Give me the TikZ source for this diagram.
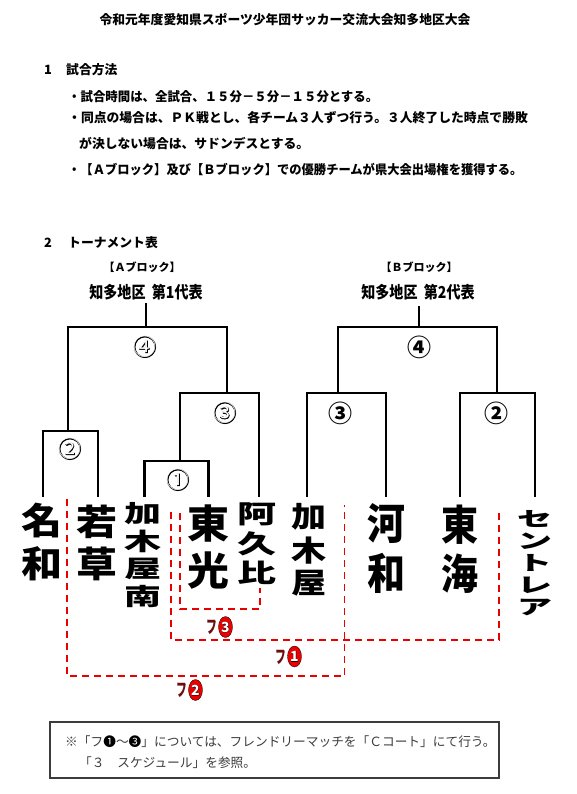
\documentclass[tikz,border=0pt]{standalone}
\usepackage{fontspec}
\usepackage{graphicx}
\usetikzlibrary{shapes.geometric}
\setmainfont{Noto Sans CJK JP}
\newfontfamily\jpfat{Noto Sans CJK JP}[FakeBold=3]
\definecolor{fured}{RGB}{235,0,0}
\definecolor{fudark}{RGB}{110,15,15}
\definecolor{notegray}{RGB}{60,60,60}
\newcommand{\vname}[3]{\resizebox*{#1pt}{#2pt}{\bfseries\renewcommand{\arraystretch}{0.9}\begin{tabular}{@{}c@{}}#3\end{tabular}}}
\newcommand{\outl}[1]{{\jpfat\color{black}#1}\llap{\color{white}#1}}
\tikzset{
  txt/.style={inner sep=0pt, anchor=west, font=\bfseries\fontsize{12.8}{14}\selectfont},
  notetxt/.style={inner sep=0pt, anchor=west, text=notegray, font=\fontsize{12.7}{14}\selectfont},
  br/.style={line width=2.8pt, black},
  rd/.style={line width=1.4pt, fured, dash pattern=on 7pt off 5pt},
  team/.style={inner sep=0pt, anchor=north},
  numA/.style={inner sep=0pt, font=\fontsize{23}{23}\selectfont},
  numB/.style={inner sep=0pt, font=\bfseries\fontsize{24}{24}\selectfont},
  fu/.style={inner sep=0pt, text=fudark, font=\bfseries\fontsize{18}{18}\selectfont},
  fuell/.style={ellipse, draw=black, line width=0.3pt, fill=fured, inner sep=0pt, minimum width=14pt, minimum height=21pt, font=\bfseries\fontsize{14}{14}\selectfont},
}
\begin{document}
\begin{tikzpicture}[x=1pt, y=-1pt]
\useasboundingbox (0,0) rectangle (577,794);
\fill[white] (0,0) rectangle (577,794);

% title and section 1
\node[inner sep=0pt, font=\bfseries\fontsize{12.8}{14}\selectfont] (title) at (285,20) {令和元年度愛知県スポーツ少年団サッカー交流大会知多地区大会};
\node[txt] (s1n) at (44,70) {1};
\node[txt] (s1t) at (66,70) {試合方法};
\node[txt] (b1) at (68,97) {\scalebox{0.97}[1]{・試合時間は、全試合、１５分－５分－１５分とする。}};
\node[txt] (b2) at (68,118) {・同点の場合は、ＰＫ戦とし、各チーム３人ずつ行う。３人終了した時点で勝敗};
\node[txt] (b3) at (79,144) {が決しない場合は、サドンデスとする。};
\node[txt] (b4) at (68,170) {\scalebox{0.96}[1]{・【Ａブロック】及び【Ｂブロック】での優勝チームが県大会出場権を獲得する。}};

% section 2
\node[txt] (s2n) at (44,243) {2};
\node[txt] (s2t) at (68,243) {トーナメント表};
\node[inner sep=0pt, font=\bfseries\fontsize{11}{12}\selectfont] (ablk) at (142,267) {【Ａブロック】};
\node[inner sep=0pt, font=\bfseries\fontsize{11}{12}\selectfont] (bblk) at (419,267) {【Ｂブロック】};
\node[inner sep=0pt, font=\bfseries\fontsize{16.5}{16}\selectfont] (arep) at (146,292) {\scalebox{0.85}[1]{知多地区\ \ 第1代表}};
\node[inner sep=0pt, font=\bfseries\fontsize{16.5}{16}\selectfont] (brep) at (418,292) {\scalebox{0.85}[1]{知多地区\ \ 第2代表}};

% bracket coordinates
\coordinate (L1) at (43,497);
\coordinate (L2) at (98,497);
\coordinate (L3) at (144.5,497);
\coordinate (L4) at (208.5,497);
\coordinate (L5) at (259,497);
\coordinate (L6) at (307,497);
\coordinate (L7) at (386,497);
\coordinate (L8) at (460,497);
\coordinate (L9) at (535,497);
\coordinate (M1) at (180,461);
\coordinate (M2) at (68,431);
\coordinate (M3) at (227,393);
\coordinate (M4) at (146,327);
\coordinate (W1) at (146,303);
\coordinate (M5) at (338,393);
\coordinate (M6) at (497,393);
\coordinate (M7) at (419,327);
\coordinate (W2) at (419,306);

\draw[br] (L1) |- (M2) -| (L2);
\draw[br] (L3) |- (M1) -| (L4);
\draw[br] (M1) |- (M3) -| (L5);
\draw[br] (M2) |- (M4) -| (M3);
\draw[br] (M4) -- (W1);
\draw[br] (L6) |- (M5) -| (L7);
\draw[br] (L8) |- (M6) -| (L9);
\draw[br] (M5) |- (M7) -| (M6);
\draw[br] (M7) -- (W2);

% match numbers, A block (outlined)
\node[numA] (a4) at (145,347) {\outl{④}};
\node[numA] (a3) at (225,413) {\outl{③}};
\node[numA] (a2) at (70,449) {\outl{②}};
\node[numA] (a1) at (178,480) {\outl{①}};
% B block (solid)
\node[numB] (b4n) at (419,347) {④};
\node[numB] (b3n) at (340,413) {③};
\node[numB] (b2n) at (496,413) {②};

% team names
\node[team] (t1) at (42,503) {\vname{41}{86}{名\\和}};
\node[team] (t2) at (97,505) {\vname{41}{84}{若\\草}};
\node[team] (t3) at (143,502) {\vname{37}{111}{加\\木\\屋\\南}};
\node[team] (t4) at (208,505) {\vname{42}{93}{東\\光}};
\node[team] (t5) at (257,502) {\vname{39}{89}{阿\\久\\比}};
\node[team] (t6) at (309,503) {\vname{35}{100}{加\\木\\屋}};
\node[team] (t7) at (386,503) {\vname{38}{100}{河\\和}};
\node[team] (t8) at (460,505) {\vname{37}{98}{東\\海}};
\node[team] (t9) at (535,510) {\vname{35}{111}{セ\\ン\\ト\\レ\\ア}};

% friendly match brackets (red dashed)
\coordinate (R2a) at (67,499);
\coordinate (R2m) at (200,676);
\coordinate (R2b) at (344.5,505);
\coordinate (R1a) at (171,512);
\coordinate (R1m) at (300,640);
\coordinate (R1b) at (499,513);
\coordinate (R3a) at (180,513);
\coordinate (R3m) at (220,609);
\coordinate (R3b) at (260,588);
\draw[rd] (R2a) |- (R2m) -| (R2b);
\draw[rd] (R1a) |- (R1m) -| (R1b);
\draw[rd] (R3a) |- (R3m) -| (R3b);

% friendly labels
\node[fu] (fu3) at (212,627.5) {\scalebox{0.6}[1]{フ}};
\node[fuell] (fe3) at (225.5,627) {\outl{3}};
\node[fu] (fu1) at (280.5,657) {\scalebox{0.6}[1]{フ}};
\node[fuell] (fe1) at (294.5,656.5) {\outl{1}};
\node[fu] (fu2) at (182,690) {\scalebox{0.6}[1]{フ}};
\node[fuell] (fe2) at (195.5,690) {\outl{2}};

% note box
\node[draw=notegray, line width=1.4pt, minimum width=449pt, minimum height=56pt, inner sep=0pt] (note) at (274.5,750) {};
\node[notetxt] (n1) at (65,742) {※「フ\textcolor{black}{❶}～\textcolor{black}{❸}」については、フレンドリーマッチを「Ｃコート」にて行う。};
\node[notetxt] (n2) at (79,763) {「３　スケジュール」を参照。};
\end{tikzpicture}
\end{document}
